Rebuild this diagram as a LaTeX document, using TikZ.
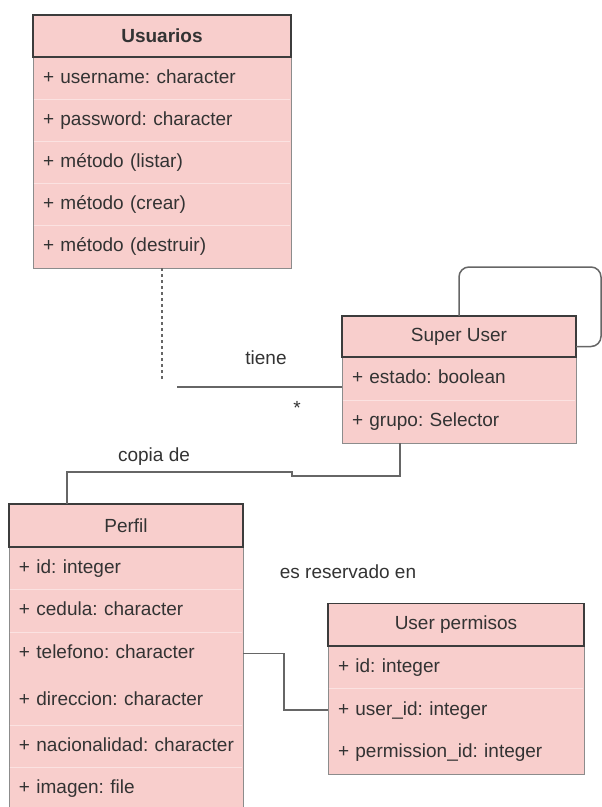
\documentclass[tikz,border=0pt]{standalone}
\usepackage{fontspec}
\setmainfont{Liberation Sans}
\usetikzlibrary{positioning, calc, backgrounds}
\definecolor{umlfill}{HTML}{F8CECC}
\definecolor{headline}{HTML}{3C3C3C}
\definecolor{bodyline}{HTML}{8C8C8C}
\definecolor{rowsep}{HTML}{FBE2E1}
\definecolor{linkgray}{HTML}{666666}
\definecolor{textgray}{HTML}{333333}
\newcommand{\umlfont}{\fontsize{19}{22}\selectfont}
\frenchspacing
\hyphenpenalty=10000
\exhyphenpenalty=10000

\begin{document}
\begin{tikzpicture}[
    x=1pt, y=-1pt,
    classhead/.style={rectangle, draw=headline, line width=1.3pt, fill=umlfill, anchor=north west, inner sep=0pt, outer sep=0pt, font=\umlfont, text=textgray},
    classrow/.style={rectangle, anchor=north west, inner xsep=10pt, inner ysep=0pt, outer sep=0pt, text width=#1, align=left, text height=14pt, text depth=4pt, font=\umlfont, text=textgray},
    classbody/.style={draw=bodyline, line width=1pt, fill=umlfill},
    rowline/.style={draw=rowsep, line width=1pt, shorten <=0.6pt, shorten >=0.6pt},
    link/.style={draw=linkgray, line width=1.5pt},
    dotlink/.style={draw=linkgray, line width=1.5pt, dash pattern=on 3pt off 3pt},
    label/.style={font=\umlfont, text=textgray}
]
\useasboundingbox (0,0) rectangle (602,807);

% Usuarios
\node[classhead, minimum width=258pt, minimum height=42pt, font={\umlfont\bfseries}] (usuarios) at (33,15) {Usuarios};
\node[classrow=238pt, minimum height=42.2pt] (u1) at (usuarios.south west) {+ username: character};
\node[classrow=238pt, minimum height=42.2pt] (u2) at (u1.south west) {+ password: character};
\node[classrow=238pt, minimum height=42.2pt] (u3) at (u2.south west) {+ método (listar)};
\node[classrow=238pt, minimum height=42.2pt] (u4) at (u3.south west) {+ método (crear)};
\node[classrow=238pt, minimum height=42.2pt] (u5) at (u4.south west) {+ método (destruir)};

% Super User
\node[classhead, minimum width=234pt, minimum height=41pt] (superuser) at (342,316) {Super User};
\node[classrow=214pt, minimum height=43pt] (su1) at (superuser.south west) {+ estado: boolean};
\node[classrow=214pt, minimum height=43pt] (su2) at (su1.south west) {+ grupo: Selector};

% Perfil
\node[classhead, minimum width=234pt, minimum height=43pt] (perfil) at (9,504) {Perfil};
\node[classrow=214pt, minimum height=42pt] (p1) at (perfil.south west) {+ id: integer};
\node[classrow=214pt, minimum height=43pt] (p2) at (p1.south west) {+ cedula: character};
\node[classrow=214pt, minimum height=43pt] (p3) at (p2.south west) {+ telefono: character};
\node[classrow=214pt, minimum height=50pt] (p4) at (p3.south west) {+ direccion: character};
\node[classrow=214pt, minimum height=42pt] (p5) at (p4.south west) {+~nacionalidad:~character};
\node[classrow=214pt, minimum height=42pt] (p6) at (p5.south west) {+ imagen: file};

% User permisos
\node[classhead, minimum width=256pt, minimum height=42.5pt] (permisos) at (328,603.5) {User permisos};
\node[classrow=236pt, minimum height=42.7pt] (up1) at (permisos.south west) {+ id: integer};
\node[classrow=236pt, minimum height=42.7pt] (up2) at (up1.south west) {+ user\_id: integer};
\node[classrow=236pt, minimum height=42.7pt] (up3) at (up2.south west) {+ permission\_id: integer};

% Class bodies
\begin{scope}[on background layer]
\draw[classbody] (u1.north west) rectangle (u5.south east);
\draw[classbody] (su1.north west) rectangle (su2.south east);
\draw[classbody] (p1.north west) rectangle (p6.south east);
\draw[classbody] (up1.north west) rectangle (up3.south east);
\end{scope}

% Row separators
\draw[rowline] (u1.south west) -- (u1.south east);
\draw[rowline] (u2.south west) -- (u2.south east);
\draw[rowline] (u3.south west) -- (u3.south east);
\draw[rowline] (u4.south west) -- (u4.south east);
\draw[rowline] (su1.south west) -- (su1.south east);
\draw[rowline] (p1.south west) -- (p1.south east);
\draw[rowline] (p2.south west) -- (p2.south east);
\draw[rowline] (p4.south west) -- (p4.south east);
\draw[rowline] (p5.south west) -- (p5.south east);
\draw[rowline] (up1.south west) -- (up1.south east);

% Connectors
\coordinate (tienegap) at (162,380);
\coordinate (tienestart) at (177,387);
\coordinate (loopcorner) at (601,267);
\coordinate (copyjog) at (292,472);

\draw[dotlink] (u5.south) -- (tienegap);
\draw[link] (tienestart) -- (tienestart -| su1.west);
\draw[link, rounded corners=10pt] (superuser.north) |- (loopcorner) |- ($(superuser.east)+(0,10)$);
\draw[link] ($(su2.south west)+(58,0)$) |- ($(copyjog)+(0,4)$) -- (copyjog) -| ($(perfil.north west)+(58,0)$);
\draw[link] (p3.east) -- ++(41,0) |- (up2.west);

% Labels
\node[label] (tienelbl) at (266,358) {tiene};
\node[label] (manylbl) at (297,408) {*};
\node[label] (copialbl) at (154,457) {copia de};
\node[label] (reservlbl) at (348,572) {es reservado en};

\end{tikzpicture}
\end{document}
